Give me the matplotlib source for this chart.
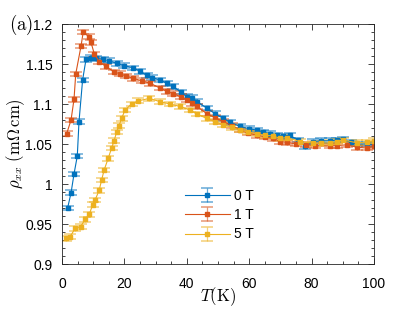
import matplotlib
matplotlib.use("Agg")
import matplotlib.pyplot as plt
from matplotlib.ticker import MultipleLocator
import numpy as np

plt.rcParams['font.family'] = ['Liberation Sans', 'DejaVu Sans']
plt.rcParams['mathtext.fontset'] = 'cm'

# 0 T
T0 = [1.8, 2.9, 3.85, 4.9, 5.45, 6.6, 7.7, 9.4, 11, 13.2, 15, 17.5, 20, 22.9, 25, 27.1,
      29, 31.4, 33.5, 35.7, 38, 40, 41.6, 43.2, 46.4, 49, 51.7, 54, 57, 60, 62.4, 64.5,
      66.7, 69, 70.9, 73, 75.5, 77.9, 80.5, 83, 85.9, 88, 90.2, 92.5, 94.5, 97.7, 100]
rho0 = [0.970, 0.989, 1.0125, 1.035, 1.078, 1.130, 1.156, 1.158, 1.157, 1.156, 1.154, 1.151,
        1.148, 1.145, 1.141, 1.136, 1.133, 1.130, 1.126, 1.122, 1.115, 1.109, 1.108, 1.103,
        1.095, 1.088, 1.082, 1.077, 1.072, 1.069, 1.0675, 1.065, 1.063, 1.061, 1.060, 1.061,
        1.055, 1.047, 1.053, 1.054, 1.054, 1.055, 1.056, 1.052, 1.050, 1.050, 1.049]

# 1 T
T1 = [1.5, 2.9, 3.85, 4.4, 6.1, 6.8, 8.6, 9.3, 10.4, 12, 14, 16.8, 18.6, 20.5, 22.9, 25.5,
      28.2, 31.4, 33.5, 35.7, 38, 40, 41.6, 43.2, 46.4, 49, 51.7, 54.5, 57, 59.5, 62.4, 65,
      67.7, 70, 72, 75, 78.3, 81, 85.9, 88, 91.3, 94.5, 97.7, 100]
rho1 = [1.063, 1.080, 1.106, 1.1375, 1.1725, 1.190, 1.184, 1.177, 1.162, 1.153, 1.147, 1.140,
        1.138, 1.135, 1.132, 1.129, 1.126, 1.120, 1.116, 1.113, 1.109, 1.105, 1.101, 1.097,
        1.088, 1.083, 1.078, 1.073, 1.0675, 1.064, 1.061, 1.059, 1.057, 1.053, 1.052, 1.050,
        1.049, 1.048, 1.0475, 1.048, 1.049, 1.046, 1.045, 1.047]

# 5 T
T5 = [1.3, 2.6, 4.2, 6.0, 7.4, 8.75, 9.8, 10.6, 11.9, 12.7, 13.5, 14.8, 15.9, 16.7, 17.5,
      18.3, 19.1, 20.2, 22.3, 24.5, 28, 31.4, 34.6, 37.8, 41, 43.2, 46.4, 49, 51.7, 54.5,
      57, 59.5, 62.4, 65, 67.7, 69.9, 72, 76.3, 80.5, 83, 85.9, 88, 90.2, 94.5, 97.7, 100]
rho5 = [0.932, 0.934, 0.9446, 0.9467, 0.956, 0.962, 0.974, 0.980, 0.992, 1.005, 1.0175, 1.032,
        1.045, 1.054, 1.065, 1.073, 1.082, 1.0925, 1.100, 1.104, 1.107, 1.103, 1.100, 1.097,
        1.0925, 1.0875, 1.082, 1.078, 1.074, 1.071, 1.0675, 1.065, 1.063, 1.061, 1.060, 1.057,
        1.058, 1.053, 1.051, 1.051, 1.0515, 1.053, 1.055, 1.0515, 1.0525, 1.054]

rho_err = 0.003
labels = ['0 T', '1 T', '5 T']
colors = ['#0072BD', '#D95319', '#EDB120']

fig = plt.figure(figsize=(4.15, 3.11), dpi=100)
ax = fig.add_axes([0.1494, 0.1511, 0.7518, 0.7717])

for T, rho, lab, c in zip([T0, T1, T5], [rho0, rho1, rho5], labels, colors):
    eb = ax.errorbar(T, rho, yerr=rho_err, color=c, marker='s', ms=2.2, lw=0.8,
                     elinewidth=0.9, capsize=4, capthick=1.1, label=lab)
    for cap in eb[1]:
        cap.set_alpha(0.6)
    for bar in eb[2]:
        bar.set_alpha(0.6)

ax.set_xlim(0, 100)
ax.set_ylim(0.9, 1.2)
ax.set_xticks([0, 20, 40, 60, 80, 100])
ax.set_yticks([0.9, 0.95, 1.0, 1.05, 1.1, 1.15, 1.2])
ax.set_yticklabels(['0.9', '0.95', '1', '1.05', '1.1', '1.15', '1.2'])
ax.xaxis.set_minor_locator(MultipleLocator(5))
ax.yaxis.set_minor_locator(MultipleLocator(0.01))
ax.tick_params(which='both', direction='in', top=True, right=True, labelsize=10,
               color='#262626', width=0.6)
ax.tick_params(which='major', length=4)
ax.tick_params(which='minor', length=2)
ax.tick_params(axis='x', pad=9)
ax.tick_params(axis='y', pad=7)
for s in ax.spines.values():
    s.set_linewidth(0.6)
    s.set_color('#262626')

ax.set_xlabel(r'$T\mathrm{(K)}$', fontsize=12, labelpad=-3.5)
ax.set_ylabel(r'$\rho_{xx}\ (\mathrm{m}\Omega\,\mathrm{cm})$', fontsize=12, labelpad=-1)
fig.text(0.022, 0.905, r'$\mathrm{(a)}$', fontsize=13.5)

ax.legend(loc='upper left', bbox_to_anchor=(0.355, 0.365), frameon=False, fontsize=10,
          handlelength=3.2, handletextpad=0.3, labelspacing=0.38)

fig.savefig('out.png', dpi=100)
